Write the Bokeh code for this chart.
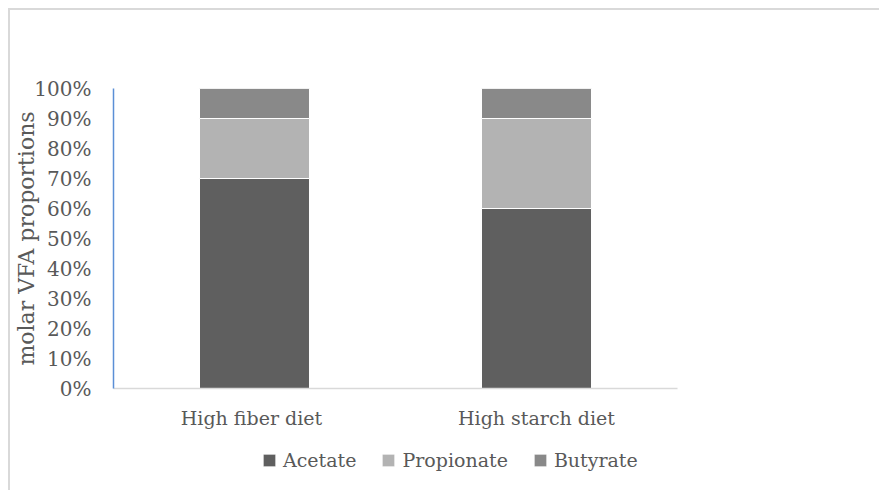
from bokeh.plotting import figure
from bokeh.layouts import column
from bokeh.models import (Legend, LegendItem, NumeralTickFormatter,
                          FixedTicker, Range1d)
from bokeh.embed import file_html
from bokeh.resources import INLINE

# Molar VFA proportions per diet
diets = ["High fiber  diet", "High starch diet"]
acetate = [0.70, 0.60]
propionate = [0.20, 0.30]
butyrate = [0.10, 0.10]
series = ["Acetate", "Propionate", "Butyrate"]
colors = ["#5f5f5f", "#b3b3b3", "#898989"]
y_ticks = [0.0, 0.1, 0.2, 0.3, 0.4, 0.5, 0.6, 0.7, 0.8, 0.9, 1.0]

FONT = "DejaVu Serif"
TEXT = "#595959"
BORDER = "#d9d9d9"

data = dict(diet=diets, Acetate=acetate, Propionate=propionate, Butyrate=butyrate)

# main chart
p = figure(x_range=diets, y_range=Range1d(0, 1), width=879, height=440,
           output_backend="svg", toolbar_location=None,
           min_border_left=113, min_border_right=202,
           min_border_top=88, min_border_bottom=52,
           border_fill_color=None, background_fill_color="white")
# light chart border along the top and left edges
p.styles = {"box-shadow": f"inset 8px 8px 0 0 #ffffff, inset 10px 10px 0 0 {BORDER}"}

p.vbar_stack(series, x="diet", width=0.39, color=colors,
             line_color="white", line_width=1, source=data)

p.xgrid.grid_line_color = None
p.ygrid.grid_line_color = None
p.outline_line_color = None

ya = p.yaxis[0]
ya.ticker = FixedTicker(ticks=y_ticks)
ya.formatter = NumeralTickFormatter(format="0%")
ya.axis_line_color = "#5b8fd6"
ya.axis_line_width = 1.5
ya.major_tick_line_color = None
ya.minor_tick_line_color = None
ya.major_tick_out = 0
ya.major_tick_in = 0
ya.major_label_standoff = 22
ya.major_label_text_font = FONT
ya.major_label_text_font_size = "20px"
ya.major_label_text_color = TEXT
ya.axis_label = "molar VFA proportions"
ya.axis_label_text_font = FONT
ya.axis_label_text_font_size = "22px"
ya.axis_label_text_font_style = "normal"
ya.axis_label_text_color = TEXT
ya.axis_label_standoff = -8

xa = p.xaxis[0]
xa.axis_line_color = BORDER
xa.axis_line_width = 1.5
xa.major_tick_line_color = None
xa.minor_tick_line_color = None
xa.major_tick_out = 0
xa.major_tick_in = 0
xa.major_label_standoff = 18
xa.major_label_text_font = FONT
xa.major_label_text_font_size = "19px"
xa.major_label_text_color = TEXT
xa.major_label_overrides = {"High fiber  diet": "High fiber\u00a0 diet"}

# legend strip underneath the chart (its frame lines up with the chart's frame)
q = figure(x_range=Range1d(0, 1), y_range=Range1d(0, 1), width=879, height=50,
           output_backend="svg", toolbar_location=None,
           x_axis_type=None, y_axis_type=None, min_border=0,
           border_fill_color=None, background_fill_color=None)
q.styles = {"box-shadow": f"inset 8px 0 0 0 #ffffff, inset 10px 0 0 0 {BORDER}"}
q.outline_line_color = None
# legend keys: zero-height bars placed outside the visible range
keys = [q.vbar(x=[-10], top=[0], bottom=[0], width=1, color=c,
               line_color="white", line_width=1)
        for c in colors]

legend = Legend(items=[LegendItem(label=s, renderers=[r]) for s, r in zip(series, keys)],
                orientation="horizontal", location=(148, 19),
                glyph_width=16, glyph_height=16, label_standoff=6, spacing=24,
                label_width=0, padding=0, margin=0,
                border_line_color=None, background_fill_alpha=0,
                label_text_font=FONT, label_text_font_size="19px",
                label_text_color=TEXT)
q.add_layout(legend)

layout = column(p, q, spacing=0)
open("out.html", "w").write(file_html(layout, INLINE))
